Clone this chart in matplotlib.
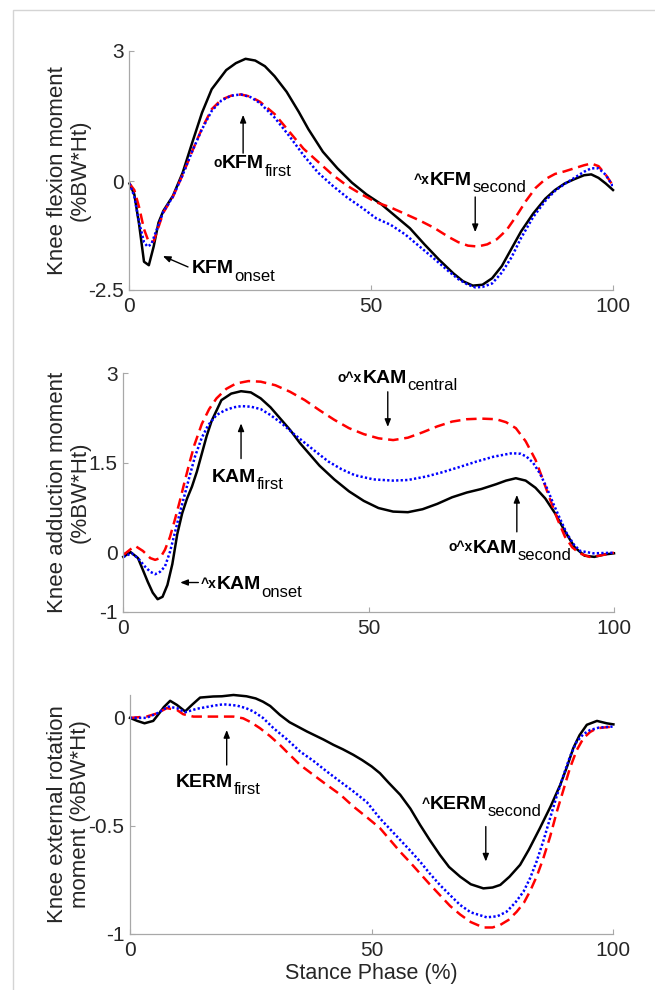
import matplotlib
matplotlib.use('Agg')
import matplotlib.pyplot as plt
from matplotlib.patches import Rectangle

plt.rcParams['font.family'] = ['Liberation Sans', 'DejaVu Sans']
plt.rcParams['axes.unicode_minus'] = False

# ---- data (stance phase %, moment %BW*Ht) ----
# knee flexion moment
kfm_black_t = [0, 1, 2, 3, 4, 5, 6, 7, 9, 11, 13, 15, 17, 20, 22, 24, 26, 28, 30, 32.5, 35, 37, 40, 43, 46, 49,
               52, 55, 58, 61, 64, 67, 69, 71, 73, 75, 77, 79, 81, 83.5, 86, 88, 90, 92, 94, 95.5, 97, 98.5, 100]
kfm_black = [-0.05, -0.3, -1.0, -1.85, -1.93, -1.5, -0.95, -0.68, -0.33, 0.2, 0.9, 1.58, 2.12, 2.56, 2.72, 2.82,
             2.78, 2.65, 2.42, 2.06, 1.6, 1.2, 0.68, 0.3, -0.03, -0.3, -0.52, -0.8, -1.08, -1.45, -1.8, -2.12, -2.3,
             -2.4, -2.38, -2.23, -1.95, -1.55, -1.15, -0.74, -0.4, -0.2, -0.05, 0.05, 0.14, 0.16, 0.08, -0.05, -0.2]
kfm_red_t = [0, 1, 2, 3, 4, 5, 6, 7, 9, 11, 13, 15, 17, 19, 21, 23, 25, 27, 30, 33, 36, 39, 42, 45, 48, 51, 54,
             57, 60, 63, 66, 68, 70, 72, 74, 76, 78, 80, 82, 84, 86, 88, 90, 92, 94, 95.5, 97, 98.5, 100]
kfm_red = [-0.05, -0.2, -0.6, -1.1, -1.4, -1.38, -1.05, -0.72, -0.35, 0.15, 0.7, 1.22, 1.66, 1.88, 1.97, 2.0,
           1.95, 1.83, 1.55, 1.15, 0.75, 0.45, 0.15, -0.1, -0.3, -0.48, -0.6, -0.75, -0.9, -1.07, -1.28, -1.4,
           -1.48, -1.5, -1.45, -1.33, -1.12, -0.8, -0.45, -0.15, 0.05, 0.17, 0.23, 0.3, 0.37, 0.41, 0.35, 0.15, -0.1]
kfm_blue_t = [0, 1, 2, 3, 3.7, 4.5, 5.5, 7, 9, 11, 13, 15, 17, 19, 21, 23, 25, 27, 30, 33, 36, 39, 42, 45, 48,
              51, 54, 57, 60, 63, 66, 68, 70, 71.5, 73, 75, 77, 79, 81, 83.5, 86, 88, 90, 92, 94, 95.5, 97, 98.5, 100]
kfm_blue = [-0.05, -0.35, -0.95, -1.4, -1.5, -1.45, -1.15, -0.7, -0.35, 0.15, 0.7, 1.2, 1.62, 1.86, 1.97, 2.0,
            1.94, 1.8, 1.47, 1.05, 0.6, 0.2, -0.1, -0.37, -0.6, -0.85, -1.0, -1.22, -1.5, -1.78, -2.07, -2.25,
            -2.38, -2.44, -2.43, -2.35, -2.1, -1.75, -1.3, -0.82, -0.45, -0.22, -0.06, 0.08, 0.22, 0.3, 0.3, 0.15, -0.12]

# knee adduction moment
kam_black_t = [0, 1.5, 3, 4, 5, 6, 7, 8, 9, 10, 11, 12, 13, 14, 15, 16, 17, 18, 20, 22, 24, 26, 28, 30, 32, 34,
               36, 38, 40, 43, 46, 49, 52, 55, 58, 61, 64, 67, 70, 73, 76, 78, 80, 82, 84, 86, 88, 90, 92, 94, 96, 98, 100]
kam_black = [-0.08, 0.0, -0.1, -0.3, -0.5, -0.68, -0.79, -0.75, -0.55, -0.2, 0.3, 0.65, 0.9, 1.1, 1.35, 1.65,
             1.95, 2.2, 2.55, 2.66, 2.7, 2.68, 2.58, 2.43, 2.24, 2.05, 1.83, 1.64, 1.45, 1.22, 1.02, 0.86, 0.74,
             0.68, 0.67, 0.72, 0.81, 0.92, 1.0, 1.06, 1.14, 1.2, 1.24, 1.2, 1.08, 0.9, 0.65, 0.35, 0.08, -0.06,
             -0.08, -0.04, -0.02]
kam_red_t = [0, 1.5, 2.5, 4, 5.5, 6.5, 7.5, 8.5, 9.5, 10.5, 11.5, 12.5, 13.5, 14.5, 16, 17.5, 19, 21, 23, 25.5,
             28, 31, 34, 37, 40, 43, 46, 49, 52, 55, 58, 61, 64, 67, 70, 73, 76, 78, 80, 82, 84, 85.5, 87, 88.5,
             90, 91.5, 93, 95, 97, 100]
kam_red = [-0.05, 0.05, 0.1, 0.02, -0.1, -0.13, -0.1, 0.04, 0.25, 0.54, 0.85, 1.18, 1.5, 1.8, 2.15, 2.4, 2.58,
           2.74, 2.83, 2.87, 2.86, 2.8, 2.69, 2.55, 2.38, 2.22, 2.08, 1.98, 1.91, 1.88, 1.92, 2.01, 2.11, 2.19,
           2.23, 2.24, 2.23, 2.18, 2.08, 1.86, 1.55, 1.22, 0.88, 0.55, 0.26, 0.08, -0.02, -0.08, -0.06, -0.01]
kam_blue_t = [0, 1.7, 3, 4.4, 5.5, 6.5, 7.5, 8.5, 9.5, 10.5, 11.5, 12.6, 13.6, 14.6, 16, 17.3, 19, 20.7, 22.5,
              24.1, 26, 28, 30, 32.3, 34.5, 36.3, 39, 41.8, 44.5, 47.2, 51, 55, 58, 61.8, 65, 68.6, 72, 75.4,
              79.2, 81, 82.2, 83.5, 84.9, 86.3, 87.6, 89, 90.4, 91.8, 93.1, 95.8, 100]
kam_blue = [-0.08, -0.02, -0.1, -0.24, -0.33, -0.37, -0.33, -0.24, 0.0, 0.32, 0.65, 0.99, 1.3, 1.6, 1.92, 2.13,
            2.3, 2.38, 2.43, 2.45, 2.44, 2.4, 2.3, 2.16, 2.0, 1.88, 1.7, 1.52, 1.39, 1.29, 1.22, 1.2, 1.21, 1.27,
            1.34, 1.43, 1.52, 1.6, 1.66, 1.65, 1.6, 1.5, 1.32, 1.08, 0.82, 0.56, 0.31, 0.13, 0.02, -0.02, -0.01]

# knee external rotation moment
kerm_black_t = [0, 1.5, 3, 4.8, 6, 7, 8.3, 9.7, 11.4, 12.8, 14.5, 17.2, 19, 21.4, 24.1, 26, 27.5, 29, 31, 33,
                36.6, 40, 42.1, 44, 46.2, 48, 50, 51.7, 53.5, 55.9, 58, 60, 62, 64.1, 66, 68.3, 70.5, 73.1, 75,
                76.6, 78.5, 80.7, 82.5, 84.8, 87, 89, 90.5, 91.7, 93, 94.5, 96.6, 98.6, 100]
kerm_black = [0, -0.014, -0.025, -0.014, 0.02, 0.05, 0.079, 0.06, 0.03, 0.06, 0.094, 0.099, 0.1, 0.106, 0.1,
              0.09, 0.075, 0.055, 0.014, -0.02, -0.063, -0.1, -0.125, -0.145, -0.171, -0.195, -0.225, -0.256,
              -0.3, -0.356, -0.42, -0.495, -0.565, -0.634, -0.69, -0.735, -0.77, -0.789, -0.785, -0.773, -0.735,
              -0.68, -0.61, -0.51, -0.41, -0.31, -0.22, -0.14, -0.08, -0.032, -0.014, -0.025, -0.03]
kerm_red_t = [0, 3.4, 5.5, 7.6, 9.7, 11, 13.1, 17.2, 21.4, 23.4, 25, 26.9, 29, 31, 33, 35.2, 38, 40.7, 43.5,
              46.2, 49, 51.7, 53.8, 55.9, 58, 60, 62, 64.1, 66.2, 68.3, 70.5, 73.1, 75, 76.6, 78.3, 80, 81.5,
              82.8, 84.2, 85.5, 86.9, 88.3, 89.7, 91, 92.4, 93.8, 95.2, 96.6, 100]
kerm_red = [0, 0.006, 0.02, 0.045, 0.037, 0.017, 0.006, 0.006, 0.006, -0.002, -0.02, -0.048, -0.085, -0.125,
            -0.17, -0.218, -0.265, -0.31, -0.355, -0.41, -0.46, -0.51, -0.565, -0.62, -0.67, -0.72, -0.77, -0.82,
            -0.87, -0.91, -0.945, -0.97, -0.97, -0.958, -0.935, -0.897, -0.855, -0.8, -0.73, -0.65, -0.55, -0.434,
            -0.33, -0.233, -0.15, -0.094, -0.065, -0.048, -0.04]
kerm_blue_t = [0, 3.4, 5.5, 7.9, 9.7, 11.4, 13.8, 17.2, 19.3, 22.1, 24, 25.5, 27.5, 29.7, 32.5, 35.2, 38, 40.7,
               43.5, 46.2, 49, 51.7, 53.8, 55.9, 58, 60, 62, 64.1, 66.2, 68.3, 70.5, 73.8, 76, 77.9, 79.7, 81.4,
               82.8, 84.1, 85.5, 86.9, 88.3, 89.7, 91, 92.4, 93.8, 95.2, 97, 100]
kerm_blue = [0, 0.0, 0.02, 0.052, 0.045, 0.026, 0.042, 0.056, 0.063, 0.057, 0.045, 0.03, 0.0, -0.048, -0.1,
             -0.156, -0.2, -0.248, -0.295, -0.34, -0.39, -0.465, -0.515, -0.565, -0.615, -0.665, -0.72, -0.773,
             -0.82, -0.866, -0.9, -0.923, -0.918, -0.897, -0.855, -0.804, -0.74, -0.665, -0.57, -0.464, -0.36,
             -0.264, -0.18, -0.11, -0.075, -0.056, -0.045, -0.04]

x_ticks = [0, 50, 100]
kfm_yticks = [-2.5, 0, 3]
kfm_yticklabels = ['-2.5', '0', '3']
kam_yticks = [-1, 0, 1.5, 3]
kam_yticklabels = ['-1', '0', '1.5', '3']
kerm_yticks = [-1, -0.5, 0]
kerm_yticklabels = ['-1', '-0.5', '0']

kfm_ylabel = 'Knee flexion moment\n(%BW*Ht)'
kam_ylabel = 'Knee adduction moment\n(%BW*Ht)'
kerm_ylabel = 'Knee external rotation\nmoment (%BW*Ht)'
x_label = 'Stance Phase (%)'

# labels: (superscript, name, subscript, text x, text baseline y, arrow tail, arrow head)
kfm_notes = [('o', 'KFM', 'first', 19.1, 0.30, (23.5, 0.65), (23.5, 1.53)),
             ('', 'KFM', 'onset', 12.9, -2.12, (12.1, -1.97), (6.9, -1.72)),
             ('^x', 'KFM', 'second', 62.2, -0.08, (71.5, -0.36), (71.5, -1.17))]
kam_notes = [('o^x', 'KAM', 'central', 48.7, 2.84, (53.9, 2.69), (53.9, 2.10)),
             ('', 'KAM', 'first', 18.0, 1.18, (24.0, 1.57), (24.0, 2.16)),
             ('^x', 'KAM', 'onset', 19.0, -0.62, (15.3, -0.51), (11.6, -0.51)),
             ('o^x', 'KAM', 'second', 71.2, -0.01, (80.2, 0.34), (80.2, 0.96))]
kerm_notes = [('', 'KERM', 'first', 9.5, -0.318, (20.0, -0.218), (20.0, -0.056)),
              ('^', 'KERM', 'second', 62.1, -0.421, (73.6, -0.503), (73.6, -0.665))]


def draw_note(ax, sup, name, sub, x, y, tail, head):
    t = ax.text(x, y, name, fontsize=14, fontweight='bold', ha='left', va='baseline')
    ax.annotate(sub, xy=(1, 0), xycoords=t, xytext=(0.3, -2.5), textcoords='offset points',
                fontsize=12, ha='left', va='baseline')
    if sup:
        ax.annotate(sup, xy=(0, 1), xycoords=t, xytext=(-0.3, -0.5), textcoords='offset points',
                    fontsize=10, fontweight='bold', ha='right', va='top')
    ax.annotate('', xy=head, xytext=tail,
                arrowprops=dict(arrowstyle='-|>,head_length=0.45,head_width=0.18', color='k',
                                lw=1.0, mutation_scale=10, shrinkA=0, shrinkB=0))


def style_axes(ax, yticks, yticklabels, ylabel, label_x):
    for side in ['top', 'right']:
        ax.spines[side].set_visible(False)
    for side in ['left', 'bottom']:
        ax.spines[side].set_color('#a8a8a8')
        ax.spines[side].set_linewidth(0.9)
    ax.set_xlim(0, 100)
    ax.set_xticks(x_ticks)
    ax.set_xticklabels([str(v) for v in x_ticks])
    ax.set_yticks(yticks)
    ax.set_yticklabels(yticklabels)
    ax.tick_params(direction='in', length=3.5, width=0.8, color='#a8a8a8', labelsize=15,
                   labelcolor='#262626')
    ax.tick_params(axis='x', pad=5)
    ax.tick_params(axis='y', pad=4)
    ax.set_ylabel(ylabel, fontsize=16, color='#262626', linespacing=1.12)
    ax.yaxis.set_label_coords(label_x, 0.5)


def plot_panel(ax, series):
    (bt, bv), (rt, rv), (ut, uv) = series
    ax.plot(bt, bv, color='k', lw=1.8, solid_joinstyle='round', clip_on=False)
    ax.plot(rt, rv, color='#ff0000', lw=1.8, dashes=(4.2, 2.3))
    ax.plot(ut, uv, color='#0000ff', lw=1.8, dashes=(0.9, 0.9))


fig = plt.figure(figsize=(6.55, 9.9), dpi=100)
fig.patches.append(Rectangle((13 / 655, -0.1), 2, 1.1 - 10 / 990, transform=fig.transFigure,
                             fill=False, edgecolor='#d4d4d4', lw=1.0))

ax1 = fig.add_axes([0.1977, 0.7071, 0.7382, 0.2414])
plot_panel(ax1, [(kfm_black_t, kfm_black), (kfm_red_t, kfm_red), (kfm_blue_t, kfm_blue)])
ax1.set_ylim(-2.5, 3)
style_axes(ax1, kfm_yticks, kfm_yticklabels, kfm_ylabel, -0.08)
for n in kfm_notes:
    draw_note(ax1, *n)

ax2 = fig.add_axes([0.1882, 0.3821, 0.7492, 0.2408])
plot_panel(ax2, [(kam_black_t, kam_black), (kam_red_t, kam_red), (kam_blue_t, kam_blue)])
ax2.set_ylim(-1, 3)
style_axes(ax2, kam_yticks, kam_yticklabels, kam_ylabel, -0.066)
for n in kam_notes:
    draw_note(ax2, *n)

ax3 = fig.add_axes([0.1985, 0.0566, 0.7380, 0.2414])
plot_panel(ax3, [(kerm_black_t, kerm_black), (kerm_red_t, kerm_red), (kerm_blue_t, kerm_blue)])
ax3.set_ylim(-1, max(kerm_black))
style_axes(ax3, kerm_yticks, kerm_yticklabels, kerm_ylabel, -0.08)
ax3.set_xlabel(x_label, fontsize=15.5, color='#262626', labelpad=2)
for n in kerm_notes:
    draw_note(ax3, *n)

fig.savefig('out.png', dpi=100)
